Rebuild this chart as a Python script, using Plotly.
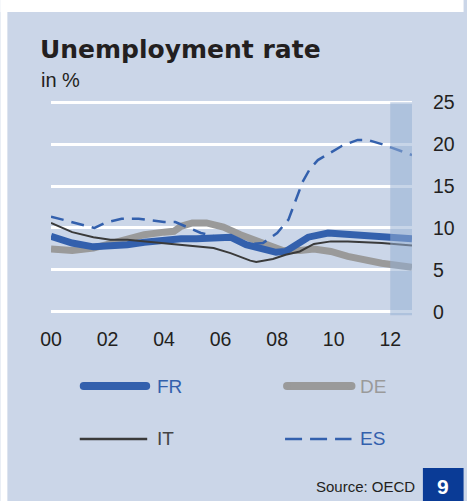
import plotly.graph_objects as go

# ---- data ----
fr_x = [2000.0, 2000.75, 2001.5, 2002.1, 2002.7, 2003.3, 2004.35, 2004.6, 2005.15, 2005.75,
        2006.35, 2006.9, 2007.5, 2007.96, 2008.3, 2008.75, 2009.1, 2009.8, 2010.6, 2011.8, 2012.77]
fr_y = [9.0, 8.2, 7.75, 7.85, 8.0, 8.3, 8.7, 8.7, 8.7, 8.9,
        8.9, 8.0, 7.5, 7.1, 7.2, 8.2, 8.9, 9.4, 9.2, 8.9, 8.7]

de_x = [2000.0, 2000.75, 2001.5, 2002.1, 2002.7, 2003.3, 2004.0, 2004.35, 2004.6, 2005.0,
        2005.5, 2006.1, 2006.7, 2007.5, 2008.2, 2008.8, 2009.3, 2009.9, 2010.5, 2011.7, 2012.77]
de_y = [7.5, 7.3, 7.6, 8.1, 8.7, 9.2, 9.5, 9.6, 10.2, 10.6,
        10.6, 10.1, 9.2, 8.2, 7.3, 7.3, 7.5, 7.2, 6.6, 5.8, 5.3]

it_x = [2000.0, 2000.75, 2001.5, 2002.1, 2002.7, 2003.3, 2004.0, 2004.35, 2005.15, 2005.75,
        2006.35, 2007.05, 2007.26, 2007.85, 2008.3, 2008.8, 2009.3, 2009.9, 2010.5, 2011.7, 2012.77]
it_y = [10.6, 9.5, 8.9, 8.6, 8.6, 8.4, 8.2, 8.1, 7.8, 7.6,
        7.0, 6.1, 5.95, 6.3, 6.8, 7.2, 8.1, 8.4, 8.4, 8.2, 7.9]

es_x = [2000.0, 2001.54, 2001.9, 2002.5, 2003.1, 2004.0, 2004.4, 2005.05, 2005.3, 2006.3,
        2007.15, 2007.5, 2008.0, 2008.4, 2008.67, 2008.9, 2009.15, 2009.44, 2009.9, 2010.3,
        2010.85, 2011.2, 2011.7, 2012.14, 2012.77]
es_y = [11.35, 10.0, 10.6, 11.1, 11.1, 10.7, 10.7, 9.8, 9.4, 8.6,
        8.1, 8.2, 9.4, 11.0, 13.3, 15.5, 17.0, 18.1, 19.0, 19.8,
        20.5, 20.5, 20.0, 19.5, 18.7]

x_tickvals = [2000, 2002, 2004, 2006, 2008, 2010, 2012]
x_ticktext = ["00", "02", "04", "06", "08", "10", "12"]
y_tickvals = [0, 5, 10, 15, 20, 25]
forecast_start = 2012.0

# ---- styles ----
PANEL = "#cbd6e8"
BLUE = "#3360ad"
GREY = "#9a9a9a"
DARK = "#3a3a3a"
TEXT = "#231f20"
FONT = "Liberation Sans, Arial, sans-serif"

W, H = 467, 501
ML, MR, MT, MB = 51, 52, 98, 185
PW, PH = W - ML - MR, H - MT - MB


def px(xp):
    return (xp - ML) / PW


def py(yp):
    return (H - MB - yp) / PH


fig = go.Figure()
fig.add_trace(go.Scatter(x=de_x, y=de_y, mode="lines", line=dict(color=GREY, width=7), name="DE"))
fig.add_trace(go.Scatter(x=fr_x, y=fr_y, mode="lines", line=dict(color=BLUE, width=7), name="FR"))
fig.add_trace(go.Scatter(x=it_x, y=it_y, mode="lines", line=dict(color=DARK, width=2), name="IT"))
fig.add_trace(go.Scatter(x=es_x, y=es_y, mode="lines",
                         line=dict(color=BLUE, width=2.5, dash="13px,8px"), name="ES"))

shapes = []
# white margins around the panel
shapes.append(dict(type="rect", xref="paper", yref="paper", x0=px(0), x1=px(W), y0=py(0), y1=py(12),
                   fillcolor="white", line_width=0, layer="below"))
shapes.append(dict(type="rect", xref="paper", yref="paper", x0=px(0), x1=px(7), y0=py(0), y1=py(H),
                   fillcolor="white", line_width=0, layer="below"))
# forecast shading
shapes.append(dict(type="rect", xref="x", yref="y", x0=forecast_start, x1=2012.77, y0=-0.4, y1=25,
                   fillcolor="rgb(150,175,212)", opacity=0.53, line_width=0, layer="above"))


def thick_sample(x0, x1, y, color, w=8):
    r = w / 2
    out = [dict(type="line", xref="paper", yref="paper", x0=px(x0 + r), x1=px(x1 - r), y0=py(y), y1=py(y),
                line=dict(color=color, width=w))]
    for cx in (x0 + r, x1 - r):
        out.append(dict(type="circle", xref="paper", yref="paper", x0=px(cx - r), x1=px(cx + r),
                        y0=py(y + r), y1=py(y - r), fillcolor=color, line_width=0))
    return out


# legend samples
shapes += thick_sample(80, 151, 386, BLUE)
shapes += thick_sample(285, 358, 386, GREY)
shapes.append(dict(type="line", xref="paper", yref="paper", x0=px(80), x1=px(148), y0=py(439), y1=py(439),
                   line=dict(color=DARK, width=2.5)))
shapes.append(dict(type="line", xref="paper", yref="paper", x0=px(287), x1=px(354), y0=py(439), y1=py(439),
                   line=dict(color=BLUE, width=2.5, dash="17px,8px")))
# page number box
shapes.append(dict(type="rect", xref="paper", yref="paper", x0=px(426), x1=px(W), y0=py(468), y1=py(H),
                   fillcolor="#0a3b96", line_width=0))

ann = []
ann.append(dict(text="<b>Unemployment rate</b>", xref="paper", yref="paper", x=px(38), y=py(66),
                xanchor="left", yanchor="bottom", showarrow=False,
                font=dict(family="DejaVu Sans", size=25, color=TEXT)))
ann.append(dict(text="in %", xref="paper", yref="paper", x=px(39), y=py(80),
                xanchor="left", yanchor="middle", showarrow=False,
                font=dict(family=FONT, size=20, color=TEXT)))
for label, color, lx, ly in [("FR", BLUE, 156, 386), ("DE", GREY, 361, 386),
                             ("IT", "#444444", 156, 439), ("ES", BLUE, 361, 439)]:
    ann.append(dict(text=label, xref="paper", yref="paper", x=px(lx), y=py(ly),
                    xanchor="left", yanchor="middle", showarrow=False,
                    font=dict(family=FONT, size=19, color=color)))
ann.append(dict(text="Source: OECD", xref="paper", yref="paper", x=px(420), y=py(487),
                xanchor="right", yanchor="middle", showarrow=False,
                font=dict(family=FONT, size=15, color=TEXT)))
ann.append(dict(text="<b>9</b>", xref="paper", yref="paper", x=px(446.5), y=py(486),
                xanchor="center", yanchor="middle", showarrow=False,
                font=dict(family=FONT, size=21, color="white")))

fig.update_layout(
    width=W, height=H,
    margin=dict(l=ML, r=MR, t=MT, b=MB),
    paper_bgcolor=PANEL, plot_bgcolor=PANEL,
    showlegend=False,
    shapes=shapes, annotations=ann,
    xaxis=dict(range=[2000, 2012.77], tickvals=x_tickvals, ticktext=x_ticktext,
               showgrid=False, zeroline=False, showline=False,
               ticks="outside", ticklen=6, tickcolor="rgba(0,0,0,0)",
               tickfont=dict(family=FONT, size=19.5, color=TEXT)),
    yaxis=dict(range=[-0.5, 25.5], tickvals=y_tickvals, side="right",
               showgrid=True, gridcolor="white", gridwidth=2.5, zeroline=False, showline=False,
               ticks="outside", ticklen=16, tickcolor="rgba(0,0,0,0)",
               tickfont=dict(family=FONT, size=19.5, color=TEXT)),
)

fig.write_html("out.html")
